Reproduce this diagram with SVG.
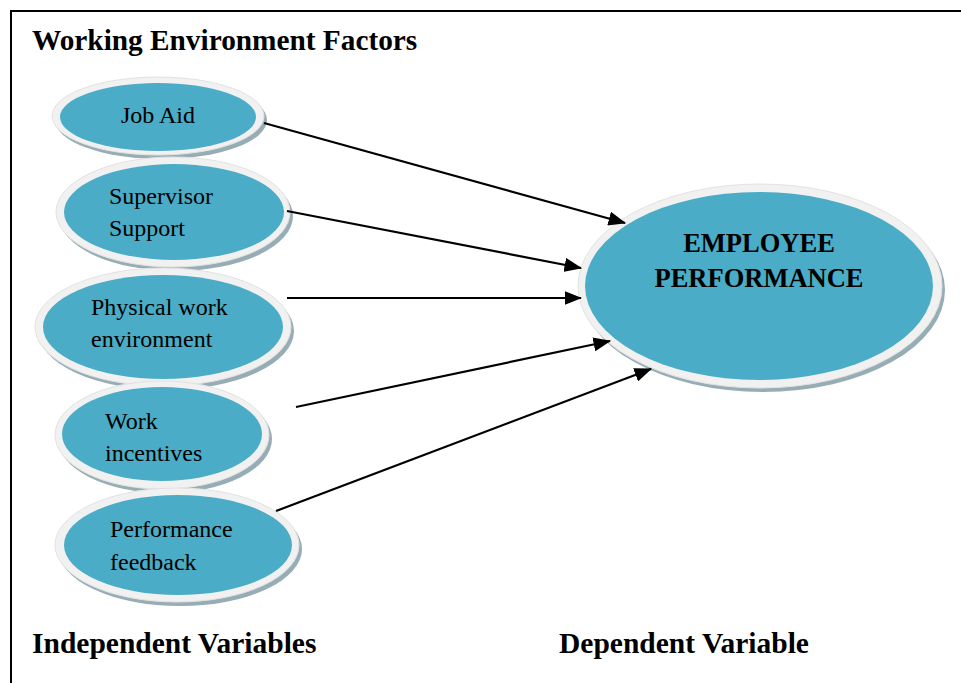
<svg xmlns="http://www.w3.org/2000/svg" width="961" height="683" viewBox="0 0 961 683">
<style>
.shadow{fill:#97adb5}
.ring{fill:#f1f1f1;stroke:#e2e2e2;stroke-width:1}
.core{fill:#4aacc6}
.t{font-family:"Liberation Serif","Times New Roman",serif;font-size:24px;fill:#000}
.b{font-family:"Liberation Serif","Times New Roman",serif;font-weight:bold;fill:#000}
.c{stroke:#000;stroke-width:2.2;fill:none;marker-end:url(#ah)}
</style>
<defs>
<marker id="ah" markerWidth="8" markerHeight="6.4" refX="7.5" refY="3.2" orient="auto" markerUnits="strokeWidth">
<path d="M0,0 L8,3.2 L0,6.4 z" fill="#000"/>
</marker>
</defs>
<rect x="11" y="11" width="1000" height="1000" fill="#fff" stroke="#000" stroke-width="2"/>
<text class="b" x="32" y="50" font-size="29.3">Working Environment Factors</text>
<g id="job-aid">
<ellipse class="shadow" cx="161" cy="120" rx="106" ry="39"/>
<ellipse class="ring" cx="158" cy="116" rx="106" ry="39"/>
<ellipse class="core" cx="158" cy="117" rx="98" ry="34"/>
<text class="t" x="121" y="123">Job Aid</text>
</g>
<g id="supervisor-support">
<ellipse class="shadow" cx="176" cy="216" rx="117" ry="55"/>
<ellipse class="ring" cx="173" cy="212" rx="117" ry="55"/>
<ellipse class="core" cx="174" cy="212" rx="110" ry="48"/>
<text class="t" x="109" y="204">Supervisor</text>
<text class="t" x="109" y="236">Support</text>
</g>
<g id="physical-work-environment">
<ellipse class="shadow" cx="166" cy="331" rx="128" ry="59"/>
<ellipse class="ring" cx="163" cy="327" rx="128" ry="59"/>
<ellipse class="core" cx="163" cy="327" rx="120" ry="52"/>
<text class="t" x="91" y="315">Physical work</text>
<text class="t" x="91" y="347">environment</text>
</g>
<g id="work-incentives">
<ellipse class="shadow" cx="165" cy="439" rx="107" ry="54"/>
<ellipse class="ring" cx="162" cy="435" rx="107" ry="54"/>
<ellipse class="core" cx="162" cy="434" rx="100" ry="47"/>
<text class="t" x="105" y="429">Work</text>
<text class="t" x="105" y="461">incentives</text>
</g>
<g id="performance-feedback">
<ellipse class="shadow" cx="180" cy="549" rx="122" ry="57"/>
<ellipse class="ring" cx="177" cy="545" rx="122" ry="57"/>
<ellipse class="core" cx="178" cy="545" rx="114" ry="50"/>
<text class="t" x="110" y="537">Performance</text>
<text class="t" x="110" y="570">feedback</text>
</g>
<g id="employee-performance">
<ellipse class="shadow" cx="763" cy="290" rx="182" ry="102"/>
<ellipse class="ring" cx="760" cy="286" rx="182" ry="102"/>
<ellipse class="core" cx="759" cy="286" rx="174" ry="94"/>
<text class="b" x="759" y="252" font-size="26.5" text-anchor="middle">EMPLOYEE</text>
<text class="b" x="759" y="287" font-size="26.5" text-anchor="middle">PERFORMANCE</text>
</g>
<g id="connectors">
<line class="c" x1="264" y1="123" x2="625" y2="223"/>
<line class="c" x1="287" y1="211" x2="581" y2="268"/>
<line class="c" x1="287" y1="298" x2="581" y2="298"/>
<line class="c" x1="296" y1="407" x2="610" y2="341"/>
<line class="c" x1="276" y1="511" x2="651" y2="369"/>
</g>
<text class="b" x="32" y="653" font-size="29.5">Independent Variables</text>
<text class="b" x="559" y="653" font-size="29.5">Dependent Variable</text>
</svg>
